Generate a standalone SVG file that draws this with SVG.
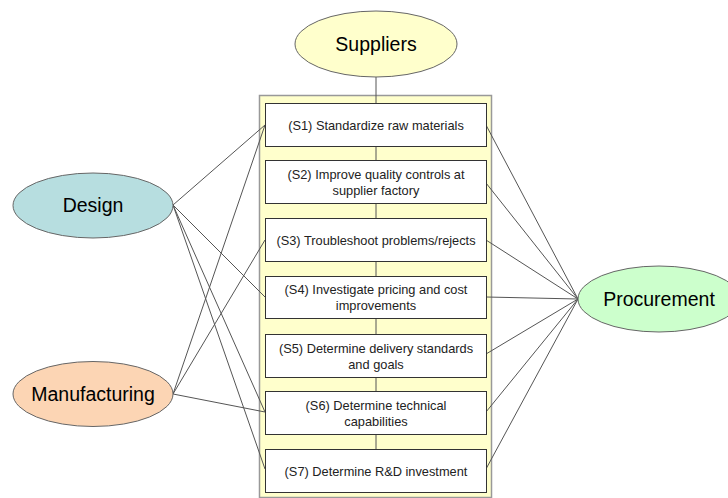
<svg xmlns="http://www.w3.org/2000/svg" width="728" height="498" viewBox="0 0 728 498">
<style>
.ell{stroke:#666;stroke-width:1}
.big{font-family:"Liberation Sans",Arial,sans-serif;font-size:19.5px;fill:#000;text-anchor:middle}
.box{fill:#fff;stroke:#333;stroke-width:1}
.t{font-family:"Liberation Sans",Arial,sans-serif;font-size:12.8px;fill:#222;text-anchor:middle}
.c{stroke:#555;stroke-width:1;fill:none}
</style>
<rect width="728" height="498" fill="#fff"/>
<g id="panel"><rect x="259.5" y="95.5" width="232" height="402" fill="#FFFFCC" stroke="#999" stroke-width="1.5"/></g>
<g id="connectors">
<line class="c" x1="376" y1="77" x2="376" y2="103"/>
<line class="c" x1="376" y1="146" x2="376" y2="160"/>
<line class="c" x1="376" y1="203" x2="376" y2="218"/>
<line class="c" x1="376" y1="261" x2="376" y2="276"/>
<line class="c" x1="376" y1="318" x2="376" y2="334"/>
<line class="c" x1="376" y1="377" x2="376" y2="391"/>
<line class="c" x1="376" y1="434" x2="376" y2="449"/>
<line class="c" x1="173" y1="205" x2="265" y2="125"/>
<line class="c" x1="173" y1="205" x2="265" y2="297"/>
<line class="c" x1="173" y1="205" x2="265" y2="412"/>
<line class="c" x1="173" y1="205" x2="265" y2="469"/>
<line class="c" x1="173" y1="394" x2="265" y2="125"/>
<line class="c" x1="173" y1="394" x2="265" y2="240"/>
<line class="c" x1="173" y1="394" x2="265" y2="412"/>
<line class="c" x1="578" y1="299" x2="486" y2="125"/>
<line class="c" x1="578" y1="299" x2="486" y2="183"/>
<line class="c" x1="578" y1="299" x2="486" y2="240"/>
<line class="c" x1="578" y1="299" x2="486" y2="297"/>
<line class="c" x1="578" y1="299" x2="486" y2="354"/>
<line class="c" x1="578" y1="299" x2="486" y2="412"/>
<line class="c" x1="578" y1="299" x2="486" y2="469"/>
</g>
<g id="suppliers"><ellipse class="ell" cx="376" cy="44" rx="81" ry="33" fill="#FFFFCC"/><text class="big" x="376" y="51">Suppliers</text></g>
<g id="design"><ellipse class="ell" cx="93" cy="205.5" rx="80" ry="32.5" fill="#B7DEE0"/><text class="big" x="93" y="212">Design</text></g>
<g id="manufacturing"><ellipse class="ell" cx="93" cy="394" rx="80" ry="32.5" fill="#FCD5B4"/><text class="big" x="93" y="401">Manufacturing</text></g>
<g id="procurement"><ellipse class="ell" cx="659" cy="299" rx="81" ry="33" fill="#CCFFCC"/><text class="big" x="659" y="306">Procurement</text></g>
<g id="s1"><rect class="box" x="265.5" y="103.5" width="221" height="43"/><text class="t" x="376" y="129.5">(S1) Standardize raw materials</text></g>
<g id="s2"><rect class="box" x="265.5" y="160.5" width="221" height="43"/><text class="t" x="376" y="179">(S2) Improve quality controls at</text><text class="t" x="376" y="195">supplier factory</text></g>
<g id="s3"><rect class="box" x="265.5" y="218.5" width="221" height="43"/><text class="t" x="376" y="244.5">(S3) Troubleshoot problems/rejects</text></g>
<g id="s4"><rect class="box" x="265.5" y="276.5" width="221" height="42"/><text class="t" x="376" y="294">(S4) Investigate pricing and cost</text><text class="t" x="376" y="310">improvements</text></g>
<g id="s5"><rect class="box" x="265.5" y="334.5" width="221" height="43"/><text class="t" x="376" y="353">(S5) Determine delivery standards</text><text class="t" x="376" y="369">and goals</text></g>
<g id="s6"><rect class="box" x="265.5" y="391.5" width="221" height="43"/><text class="t" x="376" y="410">(S6) Determine technical</text><text class="t" x="376" y="426">capabilities</text></g>
<g id="s7"><rect class="box" x="265.5" y="449.5" width="221" height="43"/><text class="t" x="376" y="475.5">(S7) Determine R&amp;D investment</text></g>
</svg>
